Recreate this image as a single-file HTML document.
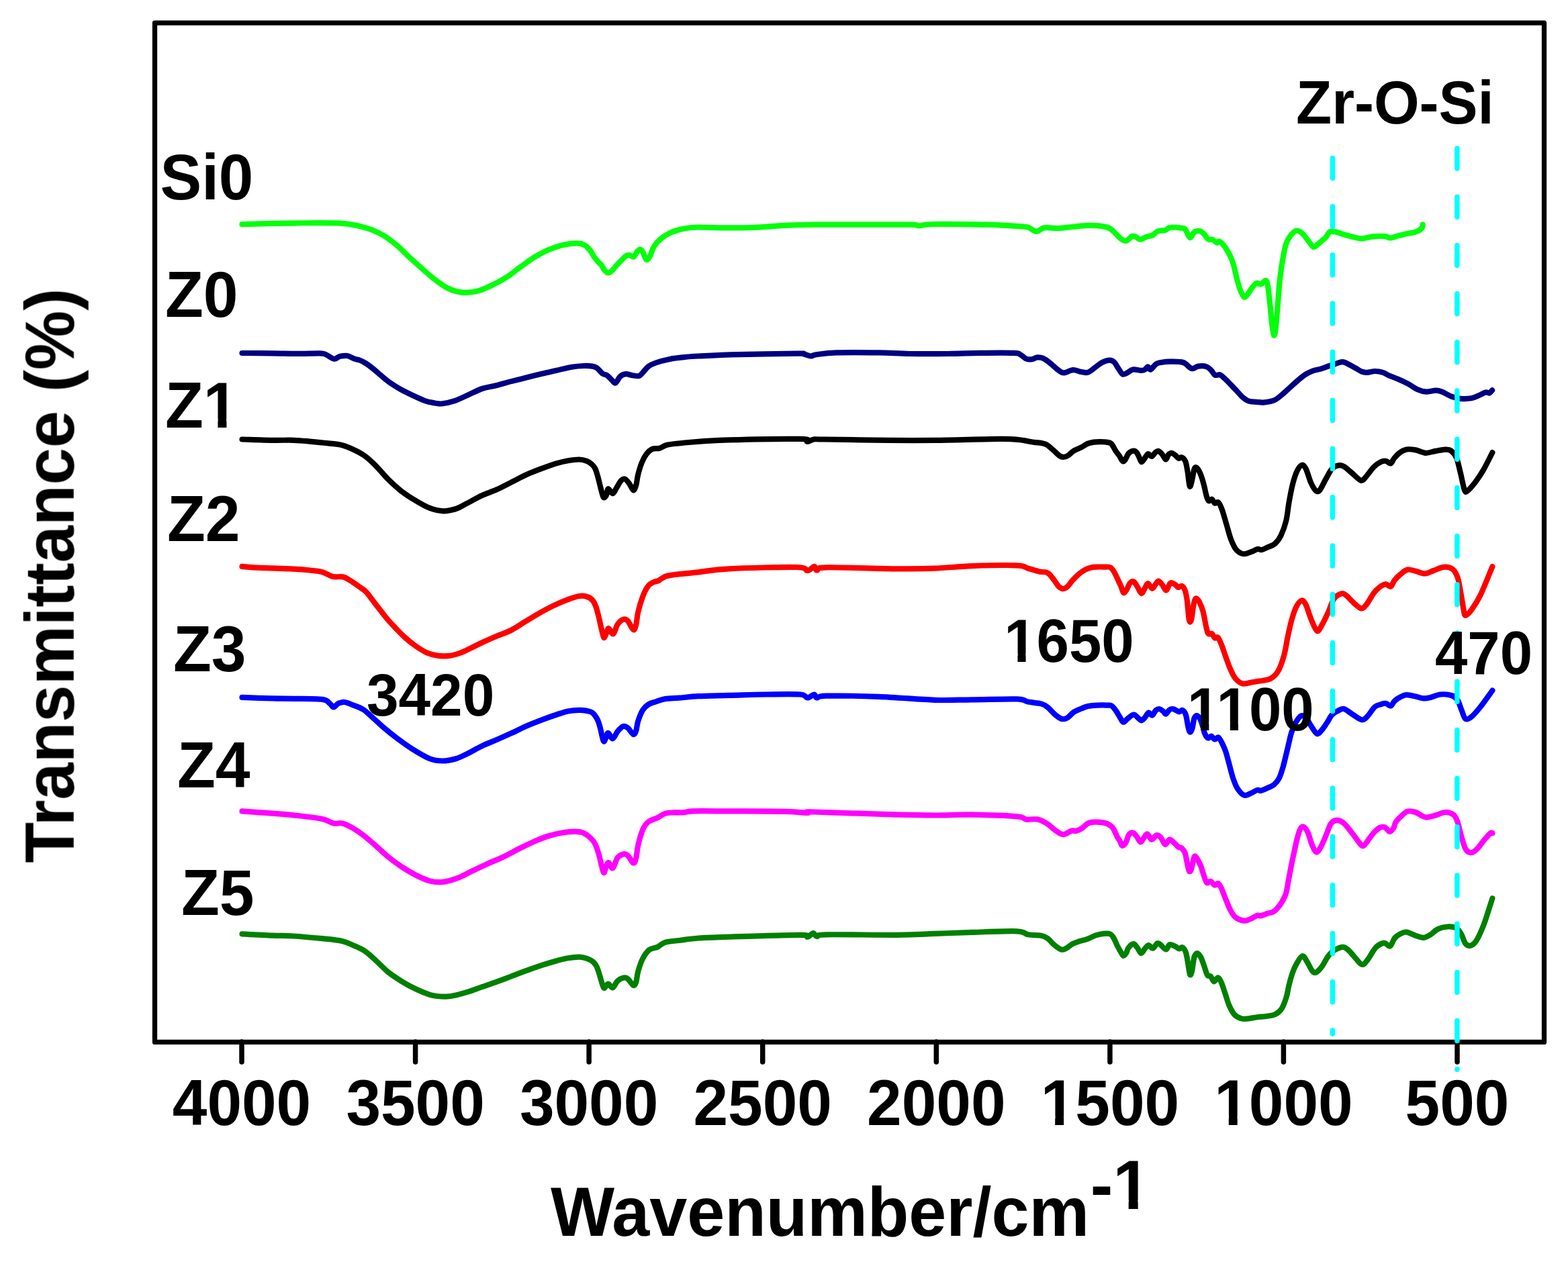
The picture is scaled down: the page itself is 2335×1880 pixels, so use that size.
<!DOCTYPE html>
<html><head><meta charset="utf-8"><title>FTIR</title><style>html,body{margin:0;padding:0;background:#fff;overflow:hidden}svg{display:block}</style></head><body>
<svg width="2335" height="1880" viewBox="0 0 2335 1880" font-family="Liberation Sans, Arial, sans-serif" font-weight="bold">
<rect width="100%" height="100%" fill="#fff"/>
<rect x="230.5" y="34.1" width="2069" height="1518.3" fill="none" stroke="#000" stroke-width="7.3" stroke-linejoin="round"/>
<line x1="360.0" y1="1552" x2="360.0" y2="1582" stroke="#000" stroke-width="7.5" stroke-linecap="round"/>
<line x1="618.6" y1="1552" x2="618.6" y2="1582" stroke="#000" stroke-width="7.5" stroke-linecap="round"/>
<line x1="877.1" y1="1552" x2="877.1" y2="1582" stroke="#000" stroke-width="7.5" stroke-linecap="round"/>
<line x1="1135.7" y1="1552" x2="1135.7" y2="1582" stroke="#000" stroke-width="7.5" stroke-linecap="round"/>
<line x1="1394.3" y1="1552" x2="1394.3" y2="1582" stroke="#000" stroke-width="7.5" stroke-linecap="round"/>
<line x1="1652.9" y1="1552" x2="1652.9" y2="1582" stroke="#000" stroke-width="7.5" stroke-linecap="round"/>
<line x1="1911.4" y1="1552" x2="1911.4" y2="1582" stroke="#000" stroke-width="7.5" stroke-linecap="round"/>
<line x1="2170.0" y1="1552" x2="2170.0" y2="1582" stroke="#000" stroke-width="7.5" stroke-linecap="round"/>
<path d="M360.5 334.1 C374.2 333.8 418.3 332.6 442.8 332.3 C467.3 332.1 492.2 331.8 507.7 332.6 C523.1 333.4 527.8 335.2 535.5 336.9 C543.2 338.5 547.9 340.0 554.1 342.5 C560.3 345.0 566.4 347.8 572.6 351.7 C578.8 355.6 585.0 360.4 591.2 365.7 C597.4 371.0 603.5 377.6 609.7 383.3 C615.9 389.0 622.1 394.6 628.3 400.0 C634.5 405.4 640.6 411.0 646.8 415.8 C653.0 420.6 659.8 425.6 665.4 428.7 C671.0 431.8 675.6 433.1 680.2 434.3 C684.8 435.5 687.9 436.0 693.2 435.8 C698.5 435.6 705.6 435.0 711.8 433.4 C718.0 431.8 723.3 429.4 730.3 426.0 C737.3 422.6 746.5 417.9 753.9 413.2 C761.3 408.5 767.8 402.9 774.8 397.9 C781.8 392.9 788.8 387.6 795.7 383.3 C802.7 379.0 809.5 375.2 816.5 372.2 C823.5 369.2 830.4 366.8 837.4 365.2 C844.4 363.6 853.0 362.5 858.3 362.4 C863.6 362.3 866.1 363.0 869.4 364.5 C872.6 366.0 875.2 368.5 877.8 371.5 C880.3 374.5 882.6 379.6 884.7 382.6 C886.8 385.6 888.4 387.5 890.3 389.6 C892.1 391.7 894.2 393.0 895.8 395.1 C897.4 397.2 898.4 400.2 900.0 402.1 C901.6 404.0 903.8 406.3 905.6 406.5 C907.5 406.7 908.8 405.6 911.1 403.5 C913.4 401.4 917.2 396.2 919.5 393.7 C921.8 391.1 923.0 390.3 925.1 388.2 C927.2 386.1 929.9 382.5 932.0 381.2 C934.1 379.9 935.6 379.9 937.6 380.1 C939.6 380.3 941.9 383.5 943.8 382.6 C945.6 381.8 947.2 376.9 948.7 375.0 C950.2 373.1 951.5 371.5 952.9 371.5 C954.3 371.5 955.5 372.4 957.1 375.0 C958.7 377.6 960.8 385.8 962.6 386.8 C964.5 387.8 966.3 384.4 968.2 381.2 C970.1 377.9 971.2 371.5 973.8 367.3 C976.3 363.1 979.6 359.6 983.5 356.2 C987.4 352.8 992.8 349.4 997.4 347.1 C1002.0 344.8 1006.6 343.6 1011.3 342.3 C1015.9 341.0 1020.5 340.1 1025.3 339.5 C1030.1 338.9 1031.5 338.5 1040.0 338.5 C1048.5 338.5 1062.6 339.3 1076.4 339.4 C1090.2 339.5 1107.3 339.5 1122.8 338.9 C1138.2 338.3 1153.6 336.6 1169.1 335.9 C1184.5 335.2 1200.0 334.9 1215.5 334.7 C1231.0 334.5 1238.7 334.7 1261.9 334.7 C1285.1 334.7 1336.9 334.4 1354.7 334.7 C1372.5 335.0 1362.8 336.4 1368.6 336.3 C1374.4 336.2 1372.5 334.3 1389.5 334.0 C1406.5 333.7 1451.3 334.3 1470.6 334.7 C1489.9 335.1 1497.2 335.9 1505.4 336.3 C1513.6 336.7 1515.7 336.9 1520.0 337.3 C1524.3 337.7 1527.1 337.4 1531.1 338.7 C1535.0 340.0 1539.8 344.8 1543.7 344.9 C1547.7 345.0 1549.5 340.2 1554.8 339.4 C1560.1 338.6 1568.8 340.2 1575.7 340.0 C1582.7 339.8 1589.1 338.7 1596.5 338.0 C1603.9 337.3 1613.2 336.1 1620.2 335.9 C1627.2 335.7 1633.0 335.9 1638.3 336.6 C1643.6 337.3 1648.5 338.3 1652.2 340.0 C1655.9 341.7 1657.7 344.4 1660.5 347.0 C1663.3 349.6 1666.1 353.4 1668.9 355.4 C1671.7 357.4 1674.4 359.4 1677.2 358.8 C1680.0 358.2 1683.3 352.9 1685.6 351.9 C1687.9 350.9 1689.0 351.8 1691.1 352.6 C1693.2 353.4 1695.3 356.7 1698.1 356.7 C1700.9 356.7 1704.8 353.6 1707.8 352.6 C1710.8 351.6 1713.4 351.9 1716.2 350.5 C1719.0 349.1 1721.2 345.5 1724.5 344.2 C1727.8 342.9 1732.7 343.7 1735.7 342.8 C1738.7 341.9 1739.1 339.3 1742.6 338.7 C1746.1 338.1 1752.8 338.9 1756.5 339.4 C1760.2 339.8 1762.3 339.0 1764.9 341.4 C1767.5 343.8 1769.6 353.3 1771.9 354.0 C1774.2 354.7 1776.2 347.2 1778.8 345.6 C1781.3 344.0 1784.9 343.7 1787.2 344.2 C1789.5 344.7 1790.6 346.3 1792.7 348.4 C1794.8 350.5 1797.6 355.3 1799.7 356.7 C1801.8 358.1 1803.2 355.9 1805.3 356.7 C1807.4 357.5 1810.5 361.2 1812.2 361.6 C1813.9 362.1 1814.0 359.0 1815.5 359.4 C1817.0 359.8 1819.1 361.8 1820.9 363.8 C1822.7 365.8 1824.6 368.5 1826.4 371.4 C1828.2 374.3 1830.2 377.8 1831.9 381.3 C1833.6 384.8 1835.0 388.2 1836.3 392.2 C1837.6 396.2 1838.4 400.9 1839.5 405.3 C1840.6 409.7 1841.5 413.9 1842.8 418.5 C1844.1 423.1 1845.5 428.7 1847.2 432.7 C1848.9 436.7 1850.9 441.7 1852.7 442.6 C1854.5 443.5 1856.1 440.6 1858.1 438.2 C1860.1 435.8 1862.5 431.0 1864.7 428.3 C1866.9 425.6 1869.1 422.6 1871.3 421.8 C1873.5 421.0 1875.6 424.0 1877.8 423.4 C1880.0 422.8 1882.8 417.8 1884.4 417.9 C1886.1 418.0 1886.6 418.4 1887.7 424.0 C1888.8 429.6 1889.9 441.3 1891.0 451.3 C1892.1 461.3 1893.3 476.1 1894.3 484.1 C1895.3 492.1 1896.1 498.6 1897.0 499.5 C1897.9 500.4 1898.7 497.6 1899.7 489.6 C1900.7 481.6 1901.9 464.1 1903.0 451.3 C1904.1 438.5 1905.0 424.3 1906.3 413.0 C1907.6 401.7 1909.2 391.7 1910.7 383.5 C1912.2 375.3 1913.4 368.9 1915.0 363.8 C1916.6 358.7 1918.7 355.7 1920.5 352.8 C1922.3 349.9 1924.2 347.9 1926.0 346.3 C1927.8 344.8 1929.3 343.3 1931.5 343.5 C1933.7 343.7 1936.9 345.7 1939.1 347.4 C1941.3 349.1 1942.6 351.3 1944.6 353.9 C1946.6 356.4 1949.2 360.3 1951.2 362.7 C1953.2 365.1 1954.8 367.8 1956.6 368.1 C1958.4 368.4 1960.1 365.9 1962.1 364.3 C1964.1 362.7 1966.7 360.0 1968.7 358.3 C1970.7 356.6 1972.1 356.1 1974.1 353.9 C1976.1 351.7 1978.2 346.6 1980.7 345.2 C1983.2 343.8 1985.2 344.7 1989.3 345.6 C1993.4 346.5 1999.3 348.9 2005.5 350.5 C2011.7 352.1 2019.8 355.0 2026.6 355.3 C2033.4 355.6 2040.1 352.6 2046.1 352.1 C2052.1 351.6 2058.2 351.7 2062.3 352.1 C2066.4 352.5 2067.5 354.6 2070.5 354.5 C2073.5 354.4 2076.5 352.7 2080.3 351.7 C2084.2 350.7 2089.2 349.4 2093.6 348.4 C2098.0 347.4 2103.5 346.9 2107.0 345.9 C2110.5 344.9 2112.6 343.8 2114.5 342.5 C2116.4 341.2 2117.6 339.3 2118.3 338.0 C2119.0 336.7 2118.6 335.1 2118.6 334.5" fill="none" stroke="#04ff0a" stroke-width="8.2" stroke-linecap="round" stroke-linejoin="round"/>
<path d="M360.5 526.0 C368.0 526.0 392.0 526.1 405.7 526.3 C419.4 526.4 431.1 526.9 442.8 526.9 C454.6 526.9 469.1 526.1 476.2 526.3 C483.3 526.5 481.8 526.8 485.4 528.2 C488.9 529.6 494.1 534.2 497.5 534.7 C500.9 535.2 502.6 531.8 505.8 531.0 C509.1 530.2 513.3 529.4 517.0 530.0 C520.7 530.6 525.0 533.6 528.1 534.7 C531.2 535.8 532.7 535.4 535.5 536.5 C538.3 537.6 541.4 539.0 544.8 541.2 C548.2 543.4 551.9 546.2 555.9 549.5 C559.9 552.8 564.6 557.1 568.9 560.7 C573.2 564.3 577.2 567.7 581.9 570.9 C586.5 574.1 591.5 577.2 596.8 580.1 C602.1 583.0 607.6 585.7 613.5 588.5 C619.4 591.3 627.6 595.0 632.0 596.8 C636.4 598.5 637.2 598.4 640.0 599.0 C642.8 599.6 645.8 600.3 648.9 600.7 C652.0 601.1 654.1 601.9 658.9 601.3 C663.7 600.6 671.7 598.8 677.8 596.8 C683.9 594.8 689.0 592.0 695.7 589.0 C702.4 586.0 710.9 581.4 717.9 579.0 C724.9 576.6 730.6 576.4 738.0 574.5 C745.4 572.6 754.7 569.9 762.5 567.9 C770.3 565.9 777.3 564.2 784.7 562.3 C792.1 560.4 799.6 558.5 807.0 556.7 C814.4 554.9 821.8 553.4 829.2 551.7 C836.6 550.0 844.8 547.8 851.5 546.7 C858.2 545.6 864.2 545.2 869.3 545.0 C874.4 544.8 878.6 545.1 881.9 545.6 C885.2 546.1 886.3 546.3 888.9 548.1 C891.5 549.9 894.7 554.6 897.2 556.5 C899.8 558.4 901.9 557.7 904.2 559.3 C906.5 560.9 909.1 564.4 911.2 566.2 C913.3 568.1 914.6 571.3 916.7 570.4 C918.8 569.5 921.2 562.9 923.7 560.7 C926.2 558.5 929.0 557.4 932.0 557.2 C935.0 557.0 938.5 558.8 941.8 559.3 C945.0 559.8 949.0 560.7 951.5 560.0 C954.0 559.3 954.8 557.4 957.1 555.1 C959.4 552.8 962.2 548.4 965.4 546.0 C968.6 543.6 971.2 542.4 976.5 540.5 C981.8 538.6 990.4 536.3 997.4 534.9 C1004.4 533.5 1011.2 532.8 1018.3 532.1 C1025.4 531.4 1026.5 531.1 1040.0 530.5 C1053.5 529.9 1075.0 528.9 1099.6 528.2 C1124.2 527.6 1171.5 526.7 1187.7 526.6 C1203.9 526.5 1193.7 526.9 1197.0 527.5 C1200.3 528.1 1204.3 530.4 1207.4 530.5 C1210.5 530.6 1209.1 529.1 1215.5 528.2 C1221.9 527.4 1230.2 525.9 1245.7 525.4 C1261.2 524.9 1290.1 525.1 1308.3 525.4 C1326.5 525.7 1337.3 526.7 1354.7 527.0 C1372.1 527.3 1395.2 527.2 1412.6 527.0 C1430.0 526.8 1442.8 526.1 1459.0 525.9 C1475.2 525.7 1500.0 525.5 1510.0 525.9 C1520.0 526.3 1516.2 526.8 1519.3 528.2 C1522.3 529.6 1525.4 533.3 1528.3 534.5 C1531.2 535.7 1533.9 535.6 1536.7 535.2 C1539.5 534.9 1542.2 532.6 1545.0 532.4 C1547.8 532.2 1550.2 532.3 1553.4 533.8 C1556.7 535.3 1560.8 538.5 1564.5 541.4 C1568.2 544.3 1572.5 548.9 1575.7 551.2 C1579.0 553.5 1580.3 555.4 1584.0 555.4 C1587.7 555.4 1593.5 551.4 1597.9 551.2 C1602.3 551.0 1606.7 553.4 1610.4 554.0 C1614.1 554.6 1616.7 555.9 1620.2 554.7 C1623.7 553.5 1627.8 549.5 1631.3 547.0 C1634.8 544.5 1637.6 541.7 1641.1 540.0 C1644.6 538.3 1649.2 536.7 1652.2 536.6 C1655.2 536.5 1656.8 537.2 1659.1 539.4 C1661.4 541.6 1664.0 546.8 1666.1 549.8 C1668.2 552.8 1669.6 556.5 1671.7 557.4 C1673.8 558.3 1676.0 556.5 1678.6 555.4 C1681.1 554.2 1683.5 551.1 1687.0 550.5 C1690.5 549.9 1696.5 551.9 1699.5 551.9 C1702.5 551.9 1703.5 551.4 1705.1 550.5 C1706.7 549.6 1707.8 546.3 1709.2 546.3 C1710.6 546.3 1711.3 551.2 1713.4 550.5 C1715.5 549.8 1719.2 543.9 1721.8 542.1 C1724.3 540.4 1725.2 540.6 1728.7 540.0 C1732.2 539.4 1737.0 538.7 1742.6 538.7 C1748.2 538.7 1756.8 538.3 1762.1 540.0 C1767.4 541.7 1770.9 548.2 1774.6 549.1 C1778.3 550.0 1780.7 546.1 1784.4 545.6 C1788.1 545.1 1793.7 545.2 1796.9 546.3 C1800.2 547.3 1801.8 549.8 1803.9 551.9 C1806.0 554.0 1807.2 557.7 1809.4 558.8 C1811.6 559.9 1814.6 557.4 1817.0 558.3 C1819.4 559.2 1821.2 561.6 1823.9 564.1 C1826.6 566.6 1830.1 570.1 1833.2 573.3 C1836.3 576.5 1839.6 580.1 1842.5 583.2 C1845.4 586.3 1847.7 589.5 1850.6 591.9 C1853.5 594.3 1856.4 596.6 1859.9 597.7 C1863.4 598.9 1867.6 598.5 1871.5 598.8 C1875.4 599.1 1878.7 599.9 1883.1 599.4 C1887.5 598.9 1893.8 597.8 1898.1 596.0 C1902.3 594.2 1904.9 591.4 1908.6 588.4 C1912.3 585.4 1916.3 581.5 1920.2 578.0 C1924.1 574.5 1927.9 570.8 1931.8 567.5 C1935.7 564.2 1939.6 560.8 1943.4 558.3 C1947.2 555.8 1951.1 554.0 1954.9 552.5 C1958.8 551.0 1962.6 550.8 1966.5 549.6 C1970.4 548.4 1974.6 546.7 1978.1 545.5 C1981.6 544.3 1983.9 543.7 1987.4 542.6 C1990.9 541.5 1995.3 539.0 1999.0 539.1 C2002.7 539.2 2006.1 541.7 2009.4 543.2 C2012.7 544.8 2015.6 546.7 2018.7 548.4 C2021.8 550.1 2025.1 552.5 2028.0 553.6 C2030.9 554.7 2032.8 554.9 2036.1 554.8 C2039.4 554.7 2043.8 553.0 2047.7 553.0 C2051.6 553.0 2055.8 553.7 2059.3 554.8 C2062.8 555.9 2064.7 557.8 2068.6 559.5 C2072.5 561.2 2077.9 563.0 2082.5 565.0 C2087.1 567.0 2091.8 569.0 2096.4 571.5 C2101.0 574.0 2105.7 577.9 2110.3 579.9 C2114.9 581.9 2119.6 583.3 2124.2 583.6 C2128.8 583.9 2134.2 581.7 2138.1 581.7 C2142.0 581.7 2143.5 582.1 2147.4 583.6 C2151.3 585.1 2156.7 588.9 2161.3 590.6 C2165.9 592.3 2170.2 593.3 2175.2 593.8 C2180.1 594.2 2186.3 594.1 2191.0 593.3 C2195.7 592.4 2199.5 590.2 2203.1 588.7 C2206.7 587.2 2209.8 585.0 2212.3 584.5 C2214.8 584.0 2216.3 586.0 2217.9 585.5 C2219.5 585.0 2221.4 582.0 2222.1 581.3" fill="none" stroke="#000080" stroke-width="8.2" stroke-linecap="round" stroke-linejoin="round"/>
<path d="M360.5 654.5 C368.0 654.7 392.9 655.6 405.7 655.8 C418.5 656.0 427.9 655.5 437.2 655.8 C446.5 656.1 452.6 656.8 461.3 657.6 C470.0 658.4 481.1 659.5 489.1 660.4 C497.2 661.3 503.4 661.7 509.6 663.2 C515.8 664.8 520.7 667.1 526.3 669.7 C531.9 672.3 537.5 675.0 543.0 679.0 C548.5 683.0 553.7 687.9 559.6 693.8 C565.5 699.7 572.0 708.0 578.2 714.2 C584.4 720.4 590.0 725.6 596.8 730.9 C603.6 736.2 611.8 741.5 619.0 745.8 C626.2 750.1 633.2 754.3 640.0 756.9 C646.8 759.5 653.5 761.1 660.0 761.3 C666.5 761.5 673.0 759.9 679.0 758.0 C685.0 756.1 689.2 753.0 695.7 749.7 C702.2 746.4 710.5 741.4 717.9 738.0 C725.3 734.6 732.8 732.5 740.2 729.1 C747.6 725.8 755.1 721.6 762.5 717.9 C769.9 714.2 777.3 710.1 784.7 706.8 C792.1 703.5 799.6 700.7 807.0 697.9 C814.4 695.1 822.7 692.0 829.2 690.1 C835.7 688.2 840.3 687.1 845.9 686.2 C851.5 685.3 858.0 684.4 862.6 684.5 C867.2 684.6 870.8 685.7 873.8 686.8 C876.8 687.9 878.5 689.2 880.5 691.0 C882.5 692.8 884.5 694.4 886.1 697.6 C887.7 700.8 888.9 705.2 890.3 710.1 C891.7 715.0 893.1 721.7 894.5 726.8 C895.9 731.9 897.2 738.9 898.6 740.7 C900.0 742.6 901.6 740.0 902.8 737.9 C904.0 735.8 904.0 728.7 905.6 728.2 C907.2 727.7 910.4 735.3 912.5 735.1 C914.6 734.9 916.0 730.0 918.1 726.8 C920.2 723.6 923.0 717.9 925.1 715.7 C927.2 713.5 928.5 712.7 930.6 713.6 C932.7 714.5 935.5 718.4 937.6 721.2 C939.7 724.0 941.6 730.1 943.2 730.3 C944.8 730.5 946.1 726.4 947.3 722.6 C948.4 718.8 948.7 712.9 950.1 707.3 C951.5 701.7 953.6 694.3 955.7 689.2 C957.8 684.1 960.0 679.9 962.6 676.5 C965.2 673.1 967.8 670.5 971.1 669.0 C974.4 667.5 978.6 668.8 982.3 667.8 C986.0 666.8 987.8 664.1 993.4 662.8 C999.0 661.5 1002.7 661.1 1015.7 660.0 C1028.7 658.9 1042.1 656.9 1071.3 655.9 C1100.5 654.9 1169.2 653.6 1191.0 653.9 C1212.8 654.2 1198.6 657.7 1202.1 657.8 C1205.6 657.9 1207.7 655.0 1211.9 654.5 C1216.1 654.0 1208.9 654.3 1227.2 654.5 C1245.5 654.7 1294.4 655.7 1321.8 655.9 C1349.2 656.1 1363.6 656.2 1391.4 655.9 C1419.2 655.6 1467.9 654.0 1488.8 653.9 C1509.7 653.8 1508.2 654.2 1516.6 655.0 C1524.9 655.8 1533.3 657.9 1538.9 658.7 C1544.5 659.5 1546.8 659.3 1550.0 659.9 C1553.2 660.5 1555.2 660.5 1558.3 662.3 C1561.4 664.1 1565.3 667.8 1568.6 670.6 C1571.8 673.4 1575.3 677.3 1577.8 679.0 C1580.3 680.7 1581.4 680.8 1583.4 680.8 C1585.4 680.8 1587.3 680.5 1589.9 679.0 C1592.5 677.5 1595.8 673.6 1599.2 671.5 C1602.6 669.4 1606.9 668.2 1610.3 666.4 C1613.7 664.6 1616.5 662.2 1619.6 660.9 C1622.7 659.6 1625.7 659.1 1628.8 658.6 C1631.9 658.1 1635.0 658.1 1638.1 658.1 C1641.2 658.1 1644.6 658.1 1647.4 658.6 C1650.2 659.1 1652.5 658.8 1654.8 660.9 C1657.1 663.0 1659.3 668.5 1661.3 671.5 C1663.3 674.5 1665.2 676.5 1666.9 679.0 C1668.6 681.5 1670.1 685.7 1671.5 686.8 C1672.9 687.9 1673.7 687.4 1675.2 685.5 C1676.8 683.6 1678.6 677.6 1680.8 675.3 C1683.0 673.0 1686.2 671.7 1688.2 671.5 C1690.2 671.3 1691.5 672.6 1692.9 674.3 C1694.3 676.0 1695.4 679.4 1696.6 681.7 C1697.8 684.0 1698.6 687.9 1699.8 688.2 C1701.0 688.5 1702.4 685.6 1704.0 683.6 C1705.6 681.6 1707.8 676.8 1709.6 676.2 C1711.4 675.6 1713.2 680.3 1715.1 679.9 C1716.9 679.5 1719.0 675.2 1720.7 673.9 C1722.4 672.6 1723.6 671.5 1725.3 672.0 C1727.0 672.5 1729.1 675.0 1730.9 677.1 C1732.7 679.2 1734.5 684.5 1736.0 684.5 C1737.5 684.5 1738.7 678.7 1740.2 677.1 C1741.7 675.5 1743.2 674.7 1744.8 674.8 C1746.4 674.9 1748.2 676.6 1749.9 677.9 C1751.7 679.2 1753.7 682.2 1755.3 682.8 C1756.9 683.3 1758.0 680.5 1759.7 681.2 C1761.4 681.9 1763.7 683.7 1765.2 687.2 C1766.7 690.8 1767.4 696.3 1768.5 702.5 C1769.6 708.7 1770.6 722.2 1771.7 724.4 C1772.8 726.6 1773.9 719.9 1775.0 715.7 C1776.1 711.5 1777.2 702.5 1778.3 699.3 C1779.4 696.1 1780.1 695.6 1781.6 696.5 C1783.1 697.4 1785.3 700.6 1787.1 704.7 C1788.9 708.8 1790.9 715.4 1792.5 721.2 C1794.1 727.1 1795.6 735.6 1796.9 739.8 C1798.2 744.0 1798.9 745.7 1800.2 746.3 C1801.5 746.9 1803.1 743.0 1804.6 743.6 C1806.1 744.2 1807.4 748.8 1809.0 749.6 C1810.6 750.4 1812.6 746.9 1814.4 748.5 C1816.2 750.1 1817.9 754.0 1819.9 759.5 C1821.9 765.0 1824.3 774.1 1826.5 781.4 C1828.7 788.7 1830.6 797.1 1833.0 803.3 C1835.4 809.5 1837.6 815.0 1840.7 818.6 C1843.8 822.2 1847.9 824.7 1851.7 825.2 C1855.5 825.8 1860.2 823.1 1863.7 821.9 C1867.2 820.7 1870.0 818.5 1872.5 818.0 C1875.0 817.5 1876.5 819.6 1879.0 819.1 C1881.5 818.6 1884.5 816.8 1887.8 815.3 C1891.1 813.8 1895.4 812.7 1898.7 809.8 C1902.0 806.9 1904.8 803.4 1907.5 797.8 C1910.2 792.1 1913.2 784.1 1915.2 775.9 C1917.2 767.7 1917.9 757.6 1919.5 748.5 C1921.1 739.4 1923.0 729.0 1925.0 721.2 C1927.0 713.4 1929.3 706.2 1931.6 701.5 C1933.9 696.8 1936.7 693.2 1938.9 692.7 C1941.1 692.2 1942.6 694.2 1944.8 698.6 C1947.0 703.0 1949.8 714.0 1952.3 719.4 C1954.8 724.8 1957.5 729.5 1959.7 731.2 C1961.9 732.9 1963.1 732.8 1965.6 729.8 C1968.1 726.8 1971.5 718.6 1974.5 713.4 C1977.5 708.2 1980.4 701.9 1983.4 698.6 C1986.4 695.3 1989.3 694.0 1992.3 693.4 C1995.3 692.8 1997.7 693.0 2001.2 694.9 C2004.7 696.8 2008.9 701.0 2013.1 704.5 C2017.3 708.0 2023.0 714.7 2026.5 715.7 C2030.0 716.7 2030.7 713.9 2033.9 710.5 C2037.1 707.1 2042.1 699.3 2045.8 695.6 C2049.5 691.9 2053.2 689.7 2056.2 688.2 C2059.2 686.7 2061.1 686.3 2063.6 686.7 C2066.1 687.1 2069.0 690.9 2071.0 690.4 C2073.0 689.9 2073.5 686.2 2075.5 683.7 C2077.5 681.2 2079.7 678.0 2082.9 675.6 C2086.1 673.2 2090.5 670.5 2094.7 669.6 C2098.9 668.7 2103.4 669.5 2108.1 670.4 C2112.8 671.3 2118.1 674.5 2123.0 674.8 C2127.9 675.0 2132.9 672.8 2137.8 671.9 C2142.7 671.0 2148.7 669.6 2152.6 669.6 C2156.5 669.6 2158.8 669.8 2161.5 671.9 C2164.2 674.0 2166.8 676.9 2169.0 682.3 C2171.2 687.7 2172.9 696.6 2174.9 704.5 C2176.9 712.4 2179.1 725.3 2180.8 729.8 C2182.5 734.2 2182.6 733.2 2185.3 731.2 C2188.0 729.2 2193.2 723.1 2197.2 717.9 C2201.1 712.7 2204.8 707.4 2209.0 700.1 C2213.2 692.8 2220.2 678.4 2222.4 674.1" fill="none" stroke="#000000" stroke-width="8.2" stroke-linecap="round" stroke-linejoin="round"/>
<path d="M360.5 843.9 C364.9 844.2 374.3 845.2 387.1 845.8 C399.9 846.4 424.8 847.0 437.2 847.6 C449.6 848.2 454.2 848.7 461.3 849.5 C468.4 850.3 474.3 850.6 480.0 852.2 C485.7 853.8 490.4 857.8 495.6 859.0 C500.8 860.2 506.4 858.2 511.2 859.5 C516.0 860.8 520.4 864.2 524.5 866.7 C528.6 869.2 532.4 872.1 535.7 874.5 C539.1 876.9 541.6 878.2 544.6 881.2 C547.6 884.2 550.2 888.0 553.5 892.3 C556.8 896.6 560.7 901.8 564.6 906.8 C568.5 911.8 572.8 917.6 576.9 922.4 C581.0 927.2 584.8 931.2 589.1 935.7 C593.4 940.2 597.5 944.6 602.5 949.1 C607.5 953.6 613.6 958.6 619.2 962.5 C624.8 966.4 630.4 970.1 635.9 972.5 C641.4 974.9 647.0 976.2 652.5 976.9 C658.0 977.6 663.6 977.6 669.2 976.9 C674.8 976.2 680.4 974.5 686.0 972.5 C691.6 970.5 696.9 967.4 702.6 964.7 C708.3 962.0 713.8 959.2 720.0 956.3 C726.2 953.4 733.2 950.4 740.0 947.5 C746.8 944.6 753.9 942.5 760.9 939.0 C767.9 935.5 774.8 930.5 781.7 926.3 C788.7 922.1 795.6 917.7 802.6 913.7 C809.6 909.8 816.5 906.0 823.5 902.6 C830.5 899.2 837.9 896.0 844.4 893.6 C850.9 891.2 857.5 888.8 862.4 888.0 C867.3 887.2 870.4 887.8 873.6 888.7 C876.9 889.6 879.6 891.1 881.9 893.6 C884.2 896.1 885.9 899.7 887.5 904.0 C889.1 908.3 890.3 913.7 891.7 919.3 C893.1 924.9 894.5 932.3 895.8 937.4 C897.1 942.5 898.1 948.8 899.3 949.9 C900.5 951.0 901.6 946.0 902.8 943.7 C904.0 941.4 904.6 935.9 906.3 936.0 C908.0 936.1 911.0 945.3 913.2 944.4 C915.4 943.5 917.1 934.0 919.5 930.4 C921.9 926.8 925.2 923.7 927.8 922.8 C930.3 921.9 932.2 922.3 934.8 924.9 C937.4 927.5 941.1 937.2 943.2 938.1 C945.3 939.0 946.1 934.7 947.3 930.4 C948.4 926.1 948.5 919.3 950.1 912.4 C951.7 905.5 954.6 895.3 957.1 888.7 C959.6 882.1 962.6 876.3 965.4 872.7 C968.2 869.1 971.2 868.4 973.8 867.1 C976.3 865.8 977.9 866.4 980.7 865.0 C983.5 863.6 986.5 860.3 990.5 858.8 C994.5 857.3 999.8 856.7 1004.4 856.0 C1009.0 855.3 1012.4 855.2 1018.3 854.6 C1024.2 854.0 1028.8 853.5 1040.0 852.3 C1051.2 851.1 1061.4 848.5 1085.7 847.3 C1110.0 846.1 1166.4 844.5 1185.9 845.0 C1205.4 845.5 1198.2 850.2 1202.6 850.0 C1207.0 849.8 1210.0 844.0 1212.3 843.9 C1214.6 843.8 1213.5 849.3 1216.5 849.5 C1219.5 849.7 1210.5 845.7 1230.4 845.3 C1250.4 844.9 1309.3 847.1 1336.2 847.3 C1363.1 847.5 1373.2 847.4 1391.8 846.7 C1410.3 846.0 1427.1 843.8 1447.5 843.1 C1467.9 842.4 1500.4 841.7 1514.3 842.3 C1528.2 842.9 1525.4 845.2 1531.0 846.7 C1536.6 848.2 1542.9 850.3 1547.7 851.4 C1552.5 852.5 1556.4 851.4 1560.0 853.4 C1563.6 855.4 1566.5 860.2 1569.3 863.6 C1572.1 867.0 1574.4 871.5 1576.7 873.8 C1579.0 876.0 1581.0 877.1 1583.2 877.1 C1585.4 877.1 1587.4 875.9 1589.7 873.8 C1592.0 871.7 1594.3 867.6 1597.1 864.5 C1599.9 861.4 1603.3 857.9 1606.4 855.3 C1609.5 852.7 1612.6 850.4 1615.7 848.8 C1618.8 847.2 1621.8 846.2 1624.9 845.5 C1628.0 844.8 1631.1 844.8 1634.2 844.6 C1637.3 844.5 1640.4 844.5 1643.5 844.6 C1646.6 844.7 1650.3 844.0 1652.8 845.0 C1655.3 846.0 1656.3 847.5 1658.3 850.6 C1660.3 853.7 1662.9 859.7 1664.8 863.6 C1666.7 867.5 1668.1 870.5 1669.5 873.8 C1670.9 877.0 1671.8 882.3 1673.2 883.1 C1674.6 883.9 1676.3 880.7 1677.8 878.4 C1679.3 876.1 1680.7 871.2 1682.4 869.2 C1684.1 867.2 1686.1 865.6 1688.0 866.4 C1689.9 867.2 1691.7 870.9 1693.6 873.8 C1695.5 876.7 1697.8 883.5 1699.6 884.0 C1701.4 884.5 1703.1 879.1 1704.7 876.6 C1706.3 874.1 1707.6 869.2 1709.4 869.2 C1711.2 869.2 1714.0 876.3 1715.8 876.6 C1717.6 876.9 1719.0 872.9 1720.5 871.0 C1722.0 869.1 1723.4 865.5 1725.1 865.5 C1726.8 865.5 1728.8 868.7 1730.7 871.0 C1732.6 873.3 1734.6 879.2 1736.3 879.4 C1738.0 879.5 1739.7 873.8 1740.9 871.9 C1742.1 870.0 1742.2 868.4 1743.7 868.2 C1745.2 868.1 1748.4 869.9 1750.2 871.0 C1752.0 872.1 1752.8 874.7 1754.4 875.0 C1756.0 875.3 1758.3 872.2 1759.9 872.8 C1761.5 873.3 1762.9 875.0 1764.2 878.3 C1765.5 881.6 1766.4 885.0 1767.5 892.5 C1768.6 900.0 1769.7 918.1 1770.8 923.2 C1771.9 928.3 1773.0 926.9 1774.1 923.2 C1775.2 919.6 1776.3 906.6 1777.4 901.3 C1778.5 896.0 1779.2 892.2 1780.7 891.5 C1782.2 890.8 1784.3 893.6 1786.1 896.9 C1787.9 900.2 1789.9 905.2 1791.6 911.2 C1793.2 917.2 1794.7 927.5 1796.0 933.0 C1797.3 938.5 1797.8 942.2 1799.3 944.0 C1800.8 945.8 1803.1 942.9 1804.7 944.0 C1806.3 945.1 1807.6 949.7 1809.1 950.6 C1810.6 951.5 1811.8 947.9 1813.5 949.5 C1815.2 951.1 1817.0 955.5 1819.0 960.4 C1821.0 965.3 1823.3 973.0 1825.5 979.0 C1827.7 985.0 1829.7 991.2 1832.1 996.5 C1834.5 1001.8 1836.7 1007.1 1839.8 1010.8 C1842.9 1014.4 1846.5 1017.5 1850.7 1018.4 C1854.9 1019.3 1860.7 1016.8 1864.9 1016.2 C1869.1 1015.6 1871.3 1015.5 1875.9 1014.6 C1880.5 1013.7 1887.7 1013.3 1892.3 1010.8 C1896.9 1008.3 1900.0 1005.5 1903.3 999.8 C1906.6 994.1 1909.6 985.2 1912.0 976.8 C1914.4 968.4 1915.7 958.1 1917.5 949.5 C1919.3 940.9 1921.0 932.7 1923.0 925.4 C1925.0 918.1 1927.0 910.8 1929.5 905.7 C1932.0 900.6 1935.7 895.4 1938.2 894.6 C1940.8 893.9 1942.5 896.6 1944.8 901.2 C1947.1 905.8 1949.6 915.6 1952.3 922.0 C1955.0 928.4 1958.5 938.3 1961.2 939.8 C1963.9 941.3 1965.9 935.3 1968.6 930.9 C1971.3 926.5 1974.5 919.5 1977.5 913.1 C1980.5 906.7 1982.9 897.1 1986.4 892.3 C1989.9 887.5 1995.1 884.9 1998.3 884.2 C2001.5 883.5 2002.7 885.5 2005.7 887.9 C2008.7 890.2 2012.5 895.2 2016.1 898.3 C2019.7 901.4 2024.0 906.1 2027.2 906.4 C2030.4 906.6 2032.3 903.6 2035.4 899.8 C2038.5 896.0 2042.6 887.6 2045.8 883.4 C2049.0 879.2 2051.7 876.7 2054.7 874.5 C2057.7 872.3 2060.9 870.2 2063.6 870.1 C2066.3 870.0 2068.8 874.8 2071.0 873.8 C2073.2 872.8 2074.4 867.2 2076.9 864.1 C2079.4 861.0 2082.6 857.8 2085.8 855.2 C2089.0 852.6 2092.5 849.3 2096.2 848.6 C2099.9 847.9 2103.9 849.8 2108.1 850.8 C2112.3 851.8 2117.1 854.6 2121.5 854.5 C2125.9 854.4 2130.1 851.6 2134.8 850.0 C2139.5 848.4 2145.0 845.2 2149.7 844.8 C2154.4 844.4 2159.6 845.3 2163.0 847.8 C2166.4 850.3 2168.4 854.2 2170.4 859.7 C2172.4 865.2 2173.4 872.6 2174.9 880.5 C2176.4 888.4 2178.2 901.2 2179.4 907.2 C2180.6 913.2 2180.3 916.5 2182.3 916.8 C2184.3 917.0 2187.5 913.8 2191.2 908.7 C2194.9 903.6 2199.4 897.2 2204.6 886.4 C2209.8 875.6 2219.4 851.1 2222.4 844.1" fill="none" stroke="#ff0000" stroke-width="8.2" stroke-linecap="round" stroke-linejoin="round"/>
<path d="M360.5 1038.9 C368.0 1039.2 392.9 1040.1 405.7 1040.4 C418.5 1040.7 424.8 1040.5 437.2 1040.8 C449.6 1041.0 470.9 1040.7 479.9 1041.9 C488.9 1043.1 488.2 1045.9 491.0 1047.8 C493.8 1049.7 494.4 1053.4 496.6 1053.4 C498.8 1053.4 501.2 1049.0 504.0 1047.8 C506.8 1046.6 509.6 1045.5 513.3 1046.0 C517.0 1046.5 521.7 1048.8 526.3 1050.6 C530.9 1052.4 536.5 1054.2 541.1 1057.1 C545.7 1060.0 548.9 1063.6 554.1 1068.2 C559.4 1072.8 566.4 1079.6 572.6 1084.9 C578.8 1090.2 584.4 1094.7 591.2 1099.8 C598.0 1104.9 605.4 1110.4 613.5 1115.5 C621.6 1120.6 632.4 1127.2 640.0 1130.2 C647.6 1133.2 652.4 1133.5 658.9 1133.5 C665.4 1133.5 672.9 1132.0 679.0 1130.2 C685.1 1128.4 689.2 1126.1 695.7 1122.9 C702.2 1119.7 710.5 1114.7 717.9 1111.2 C725.3 1107.7 732.8 1105.0 740.2 1101.8 C747.6 1098.6 755.1 1095.2 762.5 1091.8 C769.9 1088.4 777.3 1084.5 784.7 1081.2 C792.1 1078.0 799.6 1075.1 807.0 1072.3 C814.4 1069.5 822.7 1066.6 829.2 1064.5 C835.7 1062.4 840.3 1060.6 845.9 1059.5 C851.5 1058.4 858.0 1057.9 862.6 1057.8 C867.2 1057.7 870.6 1058.3 873.8 1058.9 C877.0 1059.5 879.4 1059.6 881.9 1061.5 C884.4 1063.4 887.0 1067.1 888.9 1070.4 C890.8 1073.7 891.5 1076.0 893.1 1081.5 C894.7 1087.0 897.1 1100.7 898.6 1103.7 C900.1 1106.7 900.9 1101.6 902.1 1099.6 C903.3 1097.6 903.9 1091.8 905.6 1091.9 C907.3 1092.0 910.2 1100.7 912.5 1100.3 C914.8 1099.9 917.0 1092.8 919.5 1089.8 C922.0 1086.8 925.2 1083.1 927.8 1082.2 C930.3 1081.3 932.2 1082.3 934.8 1084.3 C937.4 1086.3 941.1 1093.3 943.2 1094.0 C945.3 1094.7 946.1 1091.7 947.3 1088.4 C948.4 1085.2 948.5 1079.6 950.1 1074.5 C951.7 1069.4 954.6 1062.0 957.1 1057.8 C959.6 1053.6 962.2 1051.6 965.4 1049.5 C968.6 1047.4 972.3 1046.7 976.5 1045.3 C980.7 1043.9 984.7 1042.0 990.5 1041.1 C996.3 1040.2 1003.0 1040.3 1011.3 1039.7 C1019.5 1039.1 1027.6 1037.8 1040.0 1037.2 C1052.4 1036.6 1068.8 1036.4 1085.7 1035.9 C1102.6 1035.5 1123.7 1034.7 1141.3 1034.5 C1158.9 1034.3 1181.2 1033.7 1191.4 1034.5 C1201.6 1035.3 1199.1 1039.5 1202.6 1039.5 C1206.1 1039.5 1210.0 1034.5 1212.3 1034.5 C1214.6 1034.5 1213.5 1039.1 1216.5 1039.5 C1219.5 1039.9 1215.1 1037.0 1230.4 1036.7 C1245.7 1036.4 1281.4 1036.8 1308.3 1037.8 C1335.2 1038.8 1368.6 1042.0 1391.8 1042.8 C1415.0 1043.5 1427.1 1042.5 1447.5 1042.3 C1467.9 1042.1 1500.4 1040.9 1514.3 1041.4 C1528.2 1042.0 1525.0 1044.4 1531.0 1045.6 C1537.0 1046.8 1545.6 1047.1 1550.4 1048.4 C1555.2 1049.7 1556.5 1050.7 1560.0 1053.4 C1563.5 1056.1 1567.5 1061.6 1571.1 1064.5 C1574.6 1067.4 1578.2 1070.2 1581.3 1071.0 C1584.4 1071.8 1586.8 1070.9 1589.7 1069.2 C1592.7 1067.5 1595.5 1063.1 1599.0 1060.8 C1602.5 1058.5 1607.5 1056.8 1611.0 1055.3 C1614.5 1053.8 1616.4 1052.8 1620.3 1052.0 C1624.2 1051.2 1629.6 1050.8 1634.2 1050.6 C1638.8 1050.4 1644.5 1050.4 1648.1 1050.6 C1651.6 1050.8 1653.2 1050.1 1655.5 1051.5 C1657.8 1052.9 1660.0 1056.2 1662.0 1059.0 C1664.0 1061.8 1665.8 1065.4 1667.6 1068.2 C1669.4 1071.0 1670.8 1075.2 1672.7 1075.7 C1674.6 1076.2 1676.2 1072.9 1678.7 1071.0 C1681.2 1069.1 1685.4 1064.8 1688.0 1064.5 C1690.6 1064.2 1692.6 1067.7 1694.5 1069.2 C1696.4 1070.7 1697.9 1073.3 1699.6 1073.3 C1701.3 1073.3 1702.9 1071.1 1704.7 1069.2 C1706.5 1067.3 1708.5 1062.3 1710.3 1061.7 C1712.1 1061.1 1713.9 1066.1 1715.8 1065.5 C1717.7 1064.9 1719.5 1059.5 1721.4 1058.0 C1723.3 1056.5 1725.2 1055.9 1727.0 1056.2 C1728.8 1056.5 1731.0 1058.7 1732.5 1059.9 C1734.0 1061.1 1734.8 1064.1 1736.3 1063.6 C1737.8 1063.1 1739.9 1058.3 1741.8 1057.1 C1743.7 1055.9 1745.1 1055.7 1747.4 1056.2 C1749.8 1056.8 1753.7 1060.1 1755.9 1060.4 C1758.1 1060.7 1759.2 1057.2 1760.8 1057.9 C1762.4 1058.6 1764.2 1060.0 1765.7 1064.3 C1767.2 1068.6 1768.5 1079.5 1769.6 1083.9 C1770.7 1088.3 1771.5 1090.6 1772.5 1090.7 C1773.5 1090.8 1774.5 1088.2 1775.5 1084.8 C1776.5 1081.4 1777.3 1073.3 1778.4 1070.2 C1779.5 1067.1 1780.8 1066.1 1782.3 1066.2 C1783.8 1066.3 1785.7 1068.5 1787.2 1071.1 C1788.7 1073.7 1789.9 1078.3 1791.1 1081.9 C1792.2 1085.5 1792.8 1089.8 1794.1 1092.7 C1795.4 1095.6 1797.4 1098.8 1799.0 1099.5 C1800.6 1100.2 1802.3 1096.3 1803.9 1096.6 C1805.5 1096.9 1807.0 1101.2 1808.8 1101.5 C1810.6 1101.8 1812.6 1097.4 1814.6 1098.6 C1816.5 1099.8 1818.7 1104.8 1820.5 1108.4 C1822.3 1112.0 1823.8 1115.2 1825.4 1120.1 C1827.0 1125.0 1828.5 1131.2 1830.3 1137.7 C1832.1 1144.2 1834.1 1153.1 1836.2 1159.3 C1838.3 1165.5 1840.2 1170.8 1843.0 1175.0 C1845.8 1179.2 1849.5 1183.6 1852.8 1184.7 C1856.1 1185.8 1859.3 1183.1 1862.6 1181.8 C1865.9 1180.5 1870.0 1177.6 1872.4 1176.9 C1874.9 1176.2 1874.8 1178.4 1877.3 1177.9 C1879.8 1177.4 1883.8 1175.5 1887.1 1174.0 C1890.4 1172.5 1894.0 1171.5 1896.9 1169.1 C1899.9 1166.6 1902.5 1163.7 1904.8 1159.3 C1907.1 1154.9 1908.8 1148.6 1910.6 1142.6 C1912.4 1136.5 1914.0 1129.0 1915.5 1123.0 C1917.0 1117.0 1918.1 1111.8 1919.4 1106.4 C1920.7 1101.0 1921.8 1095.6 1923.4 1090.7 C1925.0 1085.8 1926.9 1081.0 1929.2 1077.0 C1931.5 1073.0 1934.8 1067.7 1937.4 1066.4 C1940.0 1065.1 1942.3 1066.9 1944.8 1069.4 C1947.3 1071.9 1949.6 1077.2 1952.3 1081.2 C1955.0 1085.2 1958.5 1092.1 1961.2 1093.1 C1963.9 1094.1 1966.1 1089.9 1968.6 1087.2 C1971.1 1084.5 1973.5 1080.5 1976.0 1076.8 C1978.5 1073.1 1980.7 1067.9 1983.4 1064.9 C1986.1 1061.9 1989.3 1060.5 1992.3 1059.0 C1995.3 1057.5 1997.7 1055.3 2001.2 1056.0 C2004.7 1056.7 2008.6 1060.7 2013.1 1063.4 C2017.6 1066.1 2024.0 1071.8 2028.0 1072.3 C2032.0 1072.8 2033.7 1069.6 2036.9 1066.4 C2040.1 1063.2 2044.1 1055.8 2047.3 1053.0 C2050.5 1050.2 2053.5 1050.2 2056.2 1049.3 C2058.9 1048.4 2061.1 1047.4 2063.6 1047.8 C2066.1 1048.2 2068.8 1052.2 2071.0 1051.6 C2073.2 1051.0 2074.4 1046.3 2076.9 1044.1 C2079.4 1041.9 2082.8 1039.7 2085.8 1038.2 C2088.8 1036.7 2091.0 1035.3 2094.7 1035.2 C2098.4 1035.1 2103.9 1036.6 2108.1 1037.5 C2112.3 1038.4 2116.3 1040.2 2120.0 1040.4 C2123.7 1040.6 2126.2 1039.9 2130.4 1038.9 C2134.6 1037.9 2140.0 1035.0 2145.2 1034.5 C2150.4 1034.0 2157.3 1034.6 2161.5 1036.0 C2165.7 1037.4 2167.9 1039.1 2170.4 1042.7 C2172.9 1046.3 2174.4 1052.8 2176.4 1057.5 C2178.4 1062.2 2179.8 1069.2 2182.3 1070.9 C2184.8 1072.6 2187.5 1070.9 2191.2 1067.9 C2194.9 1064.9 2199.4 1059.5 2204.6 1053.0 C2209.8 1046.5 2219.4 1032.7 2222.4 1028.6" fill="none" stroke="#0000ff" stroke-width="8.2" stroke-linecap="round" stroke-linejoin="round"/>
<path d="M360.5 1208.4 C368.0 1209.0 392.0 1210.6 405.7 1211.7 C419.4 1212.8 430.4 1213.6 442.8 1215.0 C455.2 1216.4 470.9 1218.1 479.9 1220.0 C488.9 1221.9 491.7 1225.4 496.6 1226.5 C501.6 1227.6 505.0 1225.4 509.6 1226.5 C514.2 1227.6 519.1 1230.0 524.4 1233.0 C529.6 1236.0 535.2 1239.7 541.1 1244.2 C547.0 1248.7 553.4 1254.5 559.6 1259.9 C565.8 1265.3 571.7 1271.3 578.2 1276.6 C584.7 1281.9 591.8 1287.0 598.6 1291.5 C605.4 1296.0 612.1 1300.0 619.0 1303.5 C625.9 1307.0 633.7 1310.6 640.0 1312.4 C646.3 1314.2 651.1 1314.4 656.7 1314.1 C662.3 1313.8 668.8 1311.9 673.4 1310.7 C678.0 1309.5 679.9 1308.8 684.5 1306.8 C689.1 1304.8 694.7 1301.7 701.2 1298.5 C707.7 1295.3 715.1 1291.7 723.5 1287.9 C731.9 1284.1 742.9 1279.7 751.3 1275.7 C759.6 1271.7 766.2 1267.7 773.6 1264.0 C781.0 1260.3 788.4 1256.6 795.8 1253.4 C803.2 1250.2 810.7 1247.2 818.1 1245.0 C825.5 1242.8 833.9 1241.0 840.4 1240.0 C846.9 1239.0 852.5 1238.8 857.1 1238.9 C861.7 1239.0 864.5 1239.0 868.2 1240.6 C871.9 1242.2 876.5 1245.8 879.5 1248.5 C882.5 1251.2 884.1 1253.0 886.1 1257.0 C888.1 1261.0 890.1 1267.1 891.7 1272.4 C893.3 1277.8 894.5 1284.5 895.8 1289.1 C897.1 1293.7 898.1 1300.0 899.3 1300.2 C900.5 1300.4 901.6 1293.0 902.8 1290.4 C904.0 1287.9 904.7 1284.4 906.3 1284.9 C907.9 1285.4 910.3 1294.4 912.5 1293.2 C914.7 1292.0 917.0 1281.4 919.5 1277.9 C922.0 1274.4 925.2 1273.0 927.8 1272.4 C930.3 1271.8 932.2 1272.2 934.8 1274.4 C937.4 1276.6 941.1 1285.0 943.2 1285.6 C945.3 1286.2 946.1 1282.2 947.3 1277.9 C948.4 1273.6 948.5 1266.8 950.1 1259.8 C951.7 1252.8 954.6 1242.1 957.1 1236.2 C959.6 1230.3 961.7 1227.4 965.4 1224.4 C969.1 1221.4 975.1 1220.2 979.3 1218.1 C983.5 1216.0 986.3 1213.1 990.5 1211.8 C994.7 1210.5 999.8 1210.6 1004.4 1210.4 C1009.0 1210.2 1013.7 1210.8 1018.3 1210.4 C1022.9 1210.1 1021.0 1208.6 1032.2 1208.3 C1043.4 1208.0 1062.9 1208.3 1085.7 1208.4 C1108.5 1208.5 1149.7 1208.5 1169.2 1208.9 C1188.7 1209.3 1195.6 1210.8 1202.6 1210.9 C1209.5 1211.0 1188.6 1209.0 1210.9 1209.5 C1233.2 1210.0 1306.1 1212.9 1336.2 1213.7 C1366.3 1214.5 1373.2 1214.5 1391.8 1214.5 C1410.3 1214.5 1427.1 1213.4 1447.5 1213.7 C1467.9 1214.0 1500.8 1215.2 1514.3 1216.4 C1527.8 1217.6 1523.1 1219.9 1528.2 1220.6 C1533.3 1221.3 1539.6 1219.4 1544.9 1220.6 C1550.2 1221.8 1555.6 1224.8 1560.0 1227.5 C1564.4 1230.2 1567.2 1234.1 1571.1 1236.7 C1575.0 1239.3 1579.2 1243.0 1583.2 1243.2 C1587.2 1243.4 1592.0 1238.6 1595.3 1237.7 C1598.5 1236.8 1600.1 1238.3 1602.7 1237.7 C1605.3 1237.1 1608.1 1235.9 1611.0 1234.0 C1613.9 1232.1 1617.2 1228.0 1620.3 1226.5 C1623.4 1225.0 1625.7 1224.9 1629.6 1224.7 C1633.5 1224.5 1639.6 1224.8 1643.5 1225.6 C1647.4 1226.4 1650.3 1227.8 1652.8 1229.3 C1655.3 1230.8 1656.4 1232.0 1658.3 1234.9 C1660.2 1237.9 1662.4 1244.1 1663.9 1247.0 C1665.5 1249.9 1666.4 1250.3 1667.6 1252.5 C1668.8 1254.7 1669.8 1259.6 1671.3 1259.9 C1672.8 1260.2 1675.4 1257.0 1676.9 1254.4 C1678.5 1251.8 1678.9 1246.5 1680.6 1244.2 C1682.3 1241.9 1685.1 1240.2 1687.1 1240.5 C1689.1 1240.8 1690.8 1243.7 1692.7 1246.0 C1694.6 1248.3 1696.5 1253.9 1698.2 1254.4 C1699.9 1254.9 1701.2 1250.8 1702.9 1248.8 C1704.6 1246.8 1706.4 1242.0 1708.4 1242.3 C1710.4 1242.6 1712.6 1250.4 1714.9 1250.7 C1717.2 1251.0 1720.0 1244.7 1722.3 1244.2 C1724.6 1243.7 1726.6 1245.6 1728.8 1247.9 C1731.0 1250.2 1733.1 1257.6 1735.3 1258.1 C1737.5 1258.6 1739.3 1250.8 1741.8 1250.7 C1744.3 1250.6 1748.0 1255.3 1750.2 1257.2 C1752.4 1259.1 1753.3 1260.9 1754.9 1261.9 C1756.5 1262.9 1758.2 1261.9 1759.8 1263.4 C1761.4 1264.9 1763.3 1266.9 1764.7 1270.7 C1766.1 1274.5 1767.0 1281.8 1768.1 1286.4 C1769.2 1291.0 1770.0 1296.9 1771.1 1298.1 C1772.2 1299.2 1773.3 1296.9 1774.5 1293.3 C1775.7 1289.7 1777.1 1279.0 1778.4 1276.6 C1779.7 1274.1 1780.7 1276.3 1782.3 1278.6 C1783.9 1280.9 1786.6 1286.4 1788.2 1290.3 C1789.8 1294.2 1790.6 1298.0 1792.1 1302.1 C1793.6 1306.2 1795.2 1313.0 1797.0 1314.8 C1798.8 1316.6 1800.9 1312.1 1802.9 1312.8 C1804.9 1313.5 1807.0 1318.2 1808.8 1318.7 C1810.6 1319.2 1812.1 1315.2 1813.7 1315.8 C1815.3 1316.4 1816.8 1319.0 1818.6 1322.6 C1820.4 1326.2 1822.1 1331.8 1824.4 1337.3 C1826.7 1342.8 1829.7 1351.0 1832.3 1355.9 C1834.9 1360.8 1836.7 1364.1 1840.1 1366.7 C1843.5 1369.3 1849.0 1371.3 1852.8 1371.6 C1856.5 1371.9 1859.3 1370.0 1862.6 1368.7 C1865.9 1367.4 1870.0 1364.5 1872.4 1363.8 C1874.9 1363.1 1874.8 1364.8 1877.3 1364.3 C1879.8 1363.8 1883.8 1361.9 1887.1 1360.8 C1890.4 1359.7 1893.6 1360.2 1896.9 1357.9 C1900.2 1355.6 1903.8 1351.3 1906.7 1347.1 C1909.6 1342.8 1912.5 1338.1 1914.5 1332.4 C1916.5 1326.7 1917.2 1319.5 1918.5 1312.8 C1919.8 1306.1 1921.1 1298.8 1922.4 1292.3 C1923.7 1285.8 1924.8 1280.6 1926.3 1273.7 C1927.8 1266.8 1929.6 1257.5 1931.2 1251.1 C1932.8 1244.7 1934.5 1238.8 1936.1 1235.5 C1937.7 1232.2 1939.0 1230.7 1941.0 1231.5 C1943.0 1232.3 1945.7 1236.0 1947.8 1240.5 C1949.9 1245.0 1951.6 1253.5 1953.7 1258.3 C1955.8 1263.1 1958.2 1268.9 1960.4 1269.4 C1962.6 1269.9 1964.8 1265.3 1967.1 1261.2 C1969.4 1257.1 1972.0 1250.6 1974.5 1244.9 C1977.0 1239.2 1979.2 1230.9 1981.9 1227.1 C1984.6 1223.3 1987.7 1222.0 1990.9 1221.9 C1994.1 1221.8 1997.5 1223.3 2001.2 1226.4 C2004.9 1229.5 2009.6 1236.2 2013.1 1240.5 C2016.6 1244.8 2019.3 1249.0 2022.0 1252.3 C2024.7 1255.6 2026.9 1260.5 2029.4 1260.5 C2031.9 1260.5 2034.2 1255.6 2036.9 1252.3 C2039.6 1249.0 2042.8 1243.7 2045.8 1240.5 C2048.8 1237.3 2052.0 1234.4 2054.7 1233.0 C2057.4 1231.6 2059.6 1231.3 2062.1 1232.3 C2064.6 1233.3 2067.3 1238.9 2069.5 1239.0 C2071.7 1239.1 2074.0 1235.3 2075.5 1233.0 C2077.0 1230.7 2076.4 1227.9 2078.4 1224.9 C2080.4 1221.9 2084.3 1217.9 2087.3 1215.2 C2090.3 1212.5 2092.7 1209.5 2096.2 1208.6 C2099.7 1207.7 2103.6 1208.5 2108.1 1210.0 C2112.6 1211.5 2118.1 1216.8 2123.0 1217.5 C2127.9 1218.2 2132.9 1215.8 2137.8 1214.5 C2142.7 1213.2 2148.2 1210.1 2152.6 1210.0 C2157.0 1209.9 2161.5 1211.4 2164.5 1213.7 C2167.5 1216.0 2168.4 1218.6 2170.4 1224.1 C2172.4 1229.5 2174.4 1239.7 2176.4 1246.4 C2178.4 1253.1 2180.1 1260.2 2182.3 1264.2 C2184.5 1268.2 2187.0 1269.8 2189.7 1270.1 C2192.4 1270.3 2195.1 1268.9 2198.6 1265.7 C2202.1 1262.5 2207.0 1255.0 2210.5 1250.9 C2214.0 1246.8 2217.4 1242.8 2219.4 1241.2 C2221.4 1239.6 2221.9 1241.2 2222.4 1241.2" fill="none" stroke="#ff00ff" stroke-width="8.2" stroke-linecap="round" stroke-linejoin="round"/>
<path d="M360.5 1391.3 C368.0 1391.7 392.9 1393.1 405.7 1393.6 C418.5 1394.1 424.8 1393.7 437.2 1394.5 C449.6 1395.3 467.8 1397.0 479.9 1398.2 C492.0 1399.4 501.9 1400.2 509.6 1401.9 C517.3 1403.6 520.7 1405.9 526.3 1408.4 C531.9 1410.9 537.5 1413.0 543.0 1416.7 C548.5 1420.4 553.7 1425.4 559.6 1430.7 C565.5 1436.0 571.7 1443.0 578.2 1448.3 C584.7 1453.5 591.8 1458.0 598.6 1462.2 C605.4 1466.4 612.1 1470.0 619.0 1473.3 C625.9 1476.6 634.6 1480.0 640.0 1481.8 C645.4 1483.6 647.0 1483.5 651.1 1484.0 C655.2 1484.5 659.9 1484.9 664.5 1484.6 C669.1 1484.3 673.8 1483.5 679.0 1482.4 C684.2 1481.3 689.2 1480.0 695.7 1477.9 C702.2 1475.9 710.5 1472.7 717.9 1470.1 C725.3 1467.5 732.8 1465.0 740.2 1462.3 C747.6 1459.6 755.1 1456.8 762.5 1454.0 C769.9 1451.2 777.3 1448.3 784.7 1445.6 C792.1 1442.9 799.6 1440.2 807.0 1437.8 C814.4 1435.4 822.7 1433.0 829.2 1431.2 C835.7 1429.5 840.3 1428.2 845.9 1427.3 C851.5 1426.4 858.0 1425.5 862.6 1425.6 C867.2 1425.7 870.3 1426.6 873.8 1427.8 C877.2 1429.0 880.8 1430.6 883.3 1432.8 C885.8 1435.0 887.3 1437.3 888.9 1440.7 C890.5 1444.1 891.7 1448.8 893.1 1453.2 C894.5 1457.6 896.1 1464.0 897.2 1467.1 C898.4 1470.2 898.6 1472.2 900.0 1472.0 C901.4 1471.8 903.5 1465.8 905.6 1465.7 C907.7 1465.6 910.2 1472.0 912.5 1471.3 C914.8 1470.6 917.0 1463.9 919.5 1461.5 C922.0 1459.1 925.2 1457.3 927.8 1456.7 C930.3 1456.1 932.2 1456.2 934.8 1458.1 C937.4 1459.9 941.1 1467.0 943.2 1467.8 C945.3 1468.6 946.1 1466.3 947.3 1462.9 C948.4 1459.5 948.5 1453.4 950.1 1447.6 C951.7 1441.8 954.3 1433.5 957.1 1428.1 C959.9 1422.6 963.1 1417.8 966.8 1414.9 C970.5 1412.0 975.3 1412.6 979.3 1410.7 C983.2 1408.8 985.2 1405.4 990.5 1403.8 C995.8 1402.2 1003.0 1402.0 1011.3 1401.0 C1019.5 1400.0 1027.6 1398.4 1040.0 1397.5 C1052.4 1396.6 1060.5 1396.4 1085.7 1395.6 C1110.9 1394.8 1171.9 1392.8 1191.4 1392.8 C1210.9 1392.8 1199.3 1396.1 1202.6 1395.6 C1205.8 1395.1 1208.6 1390.1 1210.9 1390.0 C1213.2 1389.9 1213.2 1394.6 1216.5 1395.0 C1219.8 1395.4 1210.5 1392.7 1230.4 1392.3 C1250.4 1391.9 1309.3 1393.0 1336.2 1392.8 C1363.1 1392.6 1373.2 1391.6 1391.8 1390.9 C1410.3 1390.2 1427.1 1389.5 1447.5 1388.9 C1467.9 1388.3 1500.4 1386.7 1514.3 1387.3 C1528.2 1387.9 1525.0 1391.2 1531.0 1392.3 C1537.0 1393.4 1545.6 1392.8 1550.4 1393.7 C1555.2 1394.6 1556.8 1395.6 1560.0 1397.8 C1563.2 1400.0 1565.9 1404.3 1569.3 1407.1 C1572.7 1409.9 1577.3 1413.6 1580.4 1414.5 C1583.5 1415.4 1585.0 1414.1 1587.8 1412.7 C1590.6 1411.3 1594.0 1407.9 1597.1 1406.2 C1600.2 1404.5 1602.7 1403.7 1606.4 1402.5 C1610.1 1401.3 1615.1 1400.3 1619.4 1398.8 C1623.7 1397.2 1628.4 1394.5 1632.4 1393.2 C1636.4 1391.9 1640.1 1391.2 1643.5 1390.9 C1646.9 1390.6 1650.3 1390.3 1652.8 1391.3 C1655.3 1392.3 1656.4 1394.0 1658.3 1396.9 C1660.2 1399.9 1662.2 1405.6 1663.9 1409.0 C1665.6 1412.4 1667.0 1414.8 1668.5 1417.3 C1670.0 1419.8 1671.3 1423.3 1672.7 1423.8 C1674.1 1424.3 1675.6 1422.1 1676.9 1420.1 C1678.2 1418.1 1678.8 1414.0 1680.6 1411.7 C1682.4 1409.4 1685.8 1406.2 1688.0 1406.2 C1690.2 1406.2 1691.7 1409.4 1693.6 1411.7 C1695.5 1414.0 1697.3 1419.8 1699.2 1420.1 C1701.1 1420.4 1702.9 1415.6 1704.7 1413.6 C1706.5 1411.6 1708.3 1408.2 1710.3 1408.0 C1712.3 1407.8 1714.6 1413.2 1716.8 1412.7 C1719.0 1412.2 1721.4 1406.2 1723.3 1405.3 C1725.2 1404.4 1725.7 1405.6 1727.9 1407.1 C1730.1 1408.6 1734.0 1414.5 1736.3 1414.5 C1738.6 1414.5 1739.5 1407.9 1741.8 1407.1 C1744.1 1406.3 1747.8 1408.9 1750.2 1409.9 C1752.6 1410.9 1754.1 1413.1 1755.9 1413.3 C1757.7 1413.5 1759.2 1410.5 1760.8 1411.3 C1762.4 1412.1 1764.4 1414.8 1765.7 1418.2 C1767.0 1421.6 1767.5 1426.4 1768.6 1431.9 C1769.6 1437.5 1770.9 1449.0 1772.0 1451.5 C1773.1 1454.0 1773.9 1450.8 1775.0 1446.6 C1776.1 1442.3 1777.1 1430.4 1778.4 1426.0 C1779.7 1421.6 1781.2 1420.2 1782.8 1420.2 C1784.4 1420.2 1786.5 1422.9 1788.2 1426.0 C1789.9 1429.1 1791.5 1434.4 1793.1 1438.8 C1794.7 1443.2 1796.4 1449.9 1798.0 1452.5 C1799.6 1455.1 1801.3 1452.8 1802.9 1454.4 C1804.5 1456.0 1806.0 1462.0 1807.8 1462.3 C1809.6 1462.6 1811.9 1456.2 1813.7 1456.4 C1815.5 1456.6 1816.8 1459.4 1818.6 1463.3 C1820.4 1467.2 1822.5 1474.2 1824.4 1479.9 C1826.4 1485.6 1828.0 1492.3 1830.3 1497.5 C1832.6 1502.7 1835.2 1507.9 1838.1 1511.2 C1841.0 1514.5 1844.6 1516.0 1847.9 1517.1 C1851.2 1518.2 1853.6 1517.9 1857.7 1517.6 C1861.8 1517.3 1867.5 1515.8 1872.4 1515.2 C1877.3 1514.6 1882.7 1514.4 1887.1 1513.7 C1891.5 1513.0 1895.3 1513.1 1898.9 1511.2 C1902.5 1509.3 1905.9 1506.6 1908.7 1502.4 C1911.5 1498.2 1913.7 1491.5 1915.5 1485.8 C1917.3 1480.1 1917.9 1474.0 1919.4 1468.1 C1920.9 1462.2 1922.5 1455.7 1924.3 1450.5 C1926.1 1445.3 1927.7 1441.2 1930.2 1436.8 C1932.7 1432.4 1936.6 1424.8 1939.3 1424.1 C1942.0 1423.4 1943.9 1428.8 1946.3 1432.4 C1948.7 1436.0 1951.5 1443.1 1953.7 1445.8 C1955.9 1448.5 1957.2 1449.7 1959.7 1448.7 C1962.2 1447.7 1965.6 1443.8 1968.6 1439.8 C1971.6 1435.8 1974.5 1429.0 1977.5 1425.0 C1980.5 1421.0 1982.7 1418.4 1986.4 1416.1 C1990.1 1413.8 1996.1 1410.9 1999.8 1410.9 C2003.5 1410.9 2005.5 1413.2 2008.7 1416.1 C2011.9 1418.9 2015.8 1424.5 2019.1 1428.0 C2022.4 1431.5 2025.7 1436.7 2028.7 1436.9 C2031.7 1437.1 2033.6 1433.6 2036.9 1429.4 C2040.2 1425.2 2045.0 1415.7 2048.7 1411.6 C2052.4 1407.5 2056.6 1406.0 2059.1 1405.0 C2061.6 1404.0 2061.7 1405.0 2063.6 1405.7 C2065.5 1406.4 2068.1 1410.8 2070.3 1409.4 C2072.5 1408.0 2074.3 1400.6 2076.9 1397.5 C2079.5 1394.4 2082.8 1392.4 2085.8 1390.9 C2088.8 1389.4 2091.0 1388.1 2094.7 1388.6 C2098.4 1389.1 2103.9 1392.4 2108.1 1393.8 C2112.3 1395.2 2116.3 1397.0 2120.0 1396.8 C2123.7 1396.5 2126.9 1394.4 2130.4 1392.3 C2133.9 1390.2 2136.6 1386.2 2140.8 1384.2 C2145.0 1382.2 2150.9 1380.8 2155.6 1380.5 C2160.3 1380.2 2165.5 1380.7 2169.0 1382.7 C2172.5 1384.7 2174.2 1388.5 2176.4 1392.3 C2178.6 1396.1 2180.1 1403.0 2182.3 1405.7 C2184.5 1408.4 2187.0 1409.5 2189.7 1408.7 C2192.4 1408.0 2195.4 1406.2 2198.6 1401.2 C2201.8 1396.2 2206.0 1386.4 2209.0 1379.0 C2212.0 1371.6 2214.3 1363.5 2216.5 1356.7 C2218.7 1349.9 2221.4 1341.3 2222.4 1338.2" fill="none" stroke="#008000" stroke-width="8.2" stroke-linecap="round" stroke-linejoin="round"/>
<line x1="1984.4" y1="235.4" x2="1984.4" y2="1540" stroke="#00ffff" stroke-width="7.5" stroke-linecap="round" stroke-dasharray="30 42.2"/>
<line x1="2169.9" y1="221" x2="2169.9" y2="1593.2" stroke="#00ffff" stroke-width="7.5" stroke-linecap="round" stroke-dasharray="30 42.2"/>
<mask id="nofoot" maskUnits="userSpaceOnUse" x="0" y="0" width="2335" height="1880"><rect width="2335" height="1880" fill="#fff"/><g fill="#000"><rect x="307.17" y="623.73" width="17.25" height="16.37"/><rect x="337.37" y="623.73" width="16.07" height="16.37"/><rect x="1499.18" y="973.77" width="16.23" height="15.73"/><rect x="1527.54" y="973.77" width="15.12" height="15.73"/><rect x="1771.98" y="1075.67" width="16.23" height="15.73"/><rect x="1800.34" y="1075.67" width="15.12" height="15.73"/><rect x="1815.56" y="1075.67" width="16.23" height="15.73"/><rect x="1843.93" y="1075.67" width="15.12" height="15.73"/><rect x="1553.98" y="1662.35" width="17.21" height="16.35"/><rect x="1584.13" y="1662.35" width="16.04" height="16.35"/><rect x="1812.55" y="1662.35" width="17.21" height="16.35"/><rect x="1842.70" y="1662.35" width="16.04" height="16.35"/><rect x="1662.08" y="1787.31" width="18.56" height="17.19"/><rect x="1694.65" y="1787.31" width="17.28" height="17.19"/></g></mask>
<g mask="url(#nofoot)">
<text transform="matrix(1 0 0 1.0360 0 -10.69)" x="238.5" y="297.0" font-size="92.5" text-anchor="start" >Si0</text>
<text transform="matrix(1 0 0 1.0360 0 -16.98)" x="246.0" y="471.8" font-size="93.0" text-anchor="start" >Z0</text>
<text transform="matrix(1 0 0 1.0360 0 -22.94)" x="246.0" y="637.1" font-size="93.0" text-anchor="start" >Z1</text>
<text transform="matrix(1 0 0 1.0360 0 -29.02)" x="249.0" y="806.0" font-size="93.0" text-anchor="start" >Z2</text>
<text transform="matrix(1 0 0 1.0360 0 -35.99)" x="258.0" y="999.6" font-size="93.0" text-anchor="start" >Z3</text>
<text transform="matrix(1 0 0 1.0360 0 -42.22)" x="264.0" y="1172.8" font-size="93.0" text-anchor="start" >Z4</text>
<text transform="matrix(1 0 0 1.0360 0 -49.09)" x="270.0" y="1363.5" font-size="93.0" text-anchor="start" >Z5</text>
<text transform="matrix(1 0 0 1.0360 0 -6.62)" x="1930.0" y="183.9" font-size="87.0" text-anchor="start" >Zr-O-Si</text>
<text transform="matrix(1 0 0 1.0360 0 -38.38)" x="546.0" y="1066.2" font-size="85.5" text-anchor="start" >3420</text>
<text transform="matrix(1 0 0 1.0360 0 -35.51)" x="1495.2" y="986.5" font-size="87.0" text-anchor="start" >1650</text>
<text transform="matrix(1 0 0 1.0360 0 -39.18)" x="1768.0" y="1088.4" font-size="87.0" text-anchor="start" >1100</text>
<text transform="matrix(1 0 0 1.0360 0 -36.16)" x="2137.0" y="1004.5" font-size="87.0" text-anchor="start" >470</text>
<text transform="matrix(1 0 0 1.0360 0 -60.33)" x="360.0" y="1675.7" font-size="92.8" text-anchor="middle" >4000</text>
<text transform="matrix(1 0 0 1.0360 0 -60.33)" x="618.6" y="1675.7" font-size="92.8" text-anchor="middle" >3500</text>
<text transform="matrix(1 0 0 1.0360 0 -60.33)" x="877.1" y="1675.7" font-size="92.8" text-anchor="middle" >3000</text>
<text transform="matrix(1 0 0 1.0360 0 -60.33)" x="1135.7" y="1675.7" font-size="92.8" text-anchor="middle" >2500</text>
<text transform="matrix(1 0 0 1.0360 0 -60.33)" x="1394.3" y="1675.7" font-size="92.8" text-anchor="middle" >2000</text>
<text transform="matrix(1 0 0 1.0360 0 -60.33)" x="1652.9" y="1675.7" font-size="92.8" text-anchor="middle" >1500</text>
<text transform="matrix(1 0 0 1.0360 0 -60.33)" x="1911.4" y="1675.7" font-size="92.8" text-anchor="middle" >1000</text>
<text transform="matrix(1 0 0 1.0360 0 -60.33)" x="2170.0" y="1675.7" font-size="92.8" text-anchor="middle" >500</text>
<text transform="matrix(1 0 0 1.0360 0 -66.27)" x="820.0" y="1840.8" font-size="100.7" text-anchor="start" >Wavenumber/cm</text>
<text transform="matrix(1 0 0 1.0360 0 -64.85)" x="1623.7" y="1801.5" font-size="100.7" text-anchor="start" >-1</text>
<text transform="translate(110 857.6) rotate(-90) scale(1 1.036)" font-size="99.4" text-anchor="middle">Transmittance (%)</text>
</g>
</svg>
</body></html>
